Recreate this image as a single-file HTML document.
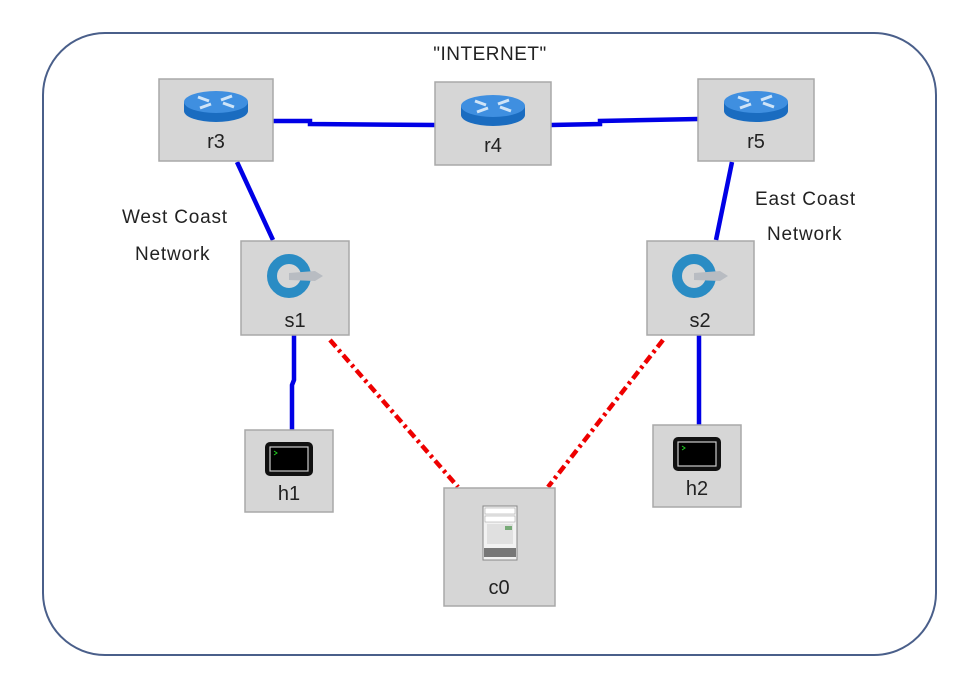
<!DOCTYPE html>
<html><head><meta charset="utf-8"><style>
html,body{margin:0;padding:0;background:#fff;}
svg{display:block;}
text{font-family:"Liberation Sans",sans-serif;}
</style></head><body>
<svg width="979" height="675" viewBox="0 0 979 675" xmlns="http://www.w3.org/2000/svg">
<defs>
<g id="router">
  <ellipse cx="0" cy="9" rx="32" ry="11" fill="#1a6cc0"/>
  <rect x="-32" y="0" width="64" height="9" fill="#1a6cc0"/>
  <ellipse cx="0" cy="0" rx="32" ry="11" fill="#3f8fe0"/>
  <path d="M-18,-5 L-7,-1 M18,5 L7,1 M-16,6 L-5,2 M16,-6 L5,-2" stroke="#cfe4f7" stroke-width="3"/>
</g>
<g id="switch">
  <circle cx="0" cy="0" r="17" fill="none" stroke="#2a8cc4" stroke-width="10"/>
  <path d="M0,-3 L26,-5 L34,0 L26,5 L0,4 Z" fill="#b8bcc2"/>
</g>
<g id="term">
  <rect x="-24" y="-17" width="48" height="34" rx="5" fill="#111"/>
  <rect x="-19" y="-12" width="38" height="24" fill="#000" stroke="#ccc" stroke-width="1.2"/>
  <path d="M-15,-8 l3,2 l-3,2" stroke="#2c2" fill="none" stroke-width="1"/>
</g>
</defs>
<rect x="43" y="33" width="893" height="622" rx="62" ry="62" fill="#fff" stroke="#4a5f8a" stroke-width="2"/>
<text x="490" y="60" font-size="19" text-anchor="middle" fill="#222" letter-spacing="0.5">"INTERNET"</text>
<g stroke="#0000e6" stroke-width="4.5" fill="none">
  <polyline points="273,121 310,121 310,124 435,125"/>
  <polyline points="551,125 600,124 600,121 698,119"/>
  <line x1="237" y1="162" x2="273" y2="240"/>
  <line x1="732" y1="162" x2="716" y2="240"/>
  <polyline points="294,335 294,380 292,385 292,430"/>
  <polyline points="699,335 699,425"/>
</g>
<g stroke="#ee0000" stroke-width="4.5" stroke-dasharray="9,4,3,4" fill="none">
  <line x1="330" y1="340" x2="458" y2="487"/>
  <line x1="663" y1="340" x2="548" y2="487"/>
</g>
<g font-size="19" fill="#222" letter-spacing="0.8">
  <text x="122" y="223">West Coast</text>
  <text x="135" y="260">Network</text>
  <text x="755" y="205">East Coast</text>
  <text x="767" y="240">Network</text>
</g>
<g fill="#d6d6d6" stroke="#a8a8a8" stroke-width="1.5">
  <rect x="159" y="79" width="114" height="82"/>
  <rect x="435" y="82" width="116" height="83"/>
  <rect x="698" y="79" width="116" height="82"/>
  <rect x="241" y="241" width="108" height="94"/>
  <rect x="647" y="241" width="107" height="94"/>
  <rect x="245" y="430" width="88" height="82"/>
  <rect x="653" y="425" width="88" height="82"/>
  <rect x="444" y="488" width="111" height="118"/>
</g>
<use href="#router" x="216" y="102"/>
<use href="#router" x="493" y="106"/>
<use href="#router" x="756" y="102"/>
<use href="#switch" x="289" y="276"/>
<use href="#switch" x="694" y="276"/>
<use href="#term" x="289" y="459"/>
<use href="#term" x="697" y="454"/>
<g>
  <rect x="483" y="506" width="34" height="54" fill="#f2f2f2" stroke="#888"/>
  <rect x="485" y="508" width="30" height="6" fill="#fff" stroke="#999" stroke-width="0.5"/>
  <rect x="485" y="516" width="30" height="6" fill="#fff" stroke="#999" stroke-width="0.5"/>
  <rect x="487" y="524" width="26" height="20" fill="#e0e0e0"/>
  <rect x="505" y="526" width="7" height="4" fill="#7a7"/>
  <rect x="484" y="548" width="32" height="9" fill="#777"/>
</g>
<g font-size="20" fill="#222" text-anchor="middle">
  <text x="216" y="148">r3</text>
  <text x="493" y="152">r4</text>
  <text x="756" y="148">r5</text>
  <text x="295" y="327">s1</text>
  <text x="700" y="327">s2</text>
  <text x="289" y="500">h1</text>
  <text x="697" y="495">h2</text>
  <text x="499" y="594">c0</text>
</g>
</svg>
</body></html>
